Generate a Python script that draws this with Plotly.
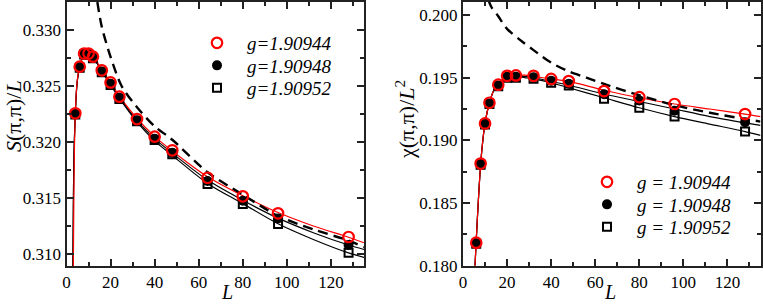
import plotly.graph_objects as go

# ---------------- data ----------------
G_NAMES_LEFT = ["g=1.90944", "g=1.90948", "g=1.90952"]
G_NAMES_RIGHT = ["g = 1.90944", "g = 1.90948", "g = 1.90952"]

# Left panel: S(pi,pi)/L
L_LEFT = [4, 6, 8, 10, 12, 16, 20, 24, 32, 40, 48, 64, 80, 96, 128]
S_G1 = [0.32256, 0.32673, 0.32790, 0.32790, 0.32762, 0.32640, 0.32532, 0.32405, 0.32205, 0.32048, 0.31926, 0.31681, 0.31515, 0.31363, 0.31152]
S_G2 = [0.32250, 0.32668, 0.32786, 0.32784, 0.32755, 0.32630, 0.32520, 0.32395, 0.32195, 0.32030, 0.31905, 0.31652, 0.31476, 0.31318, 0.31080]
S_G3 = [0.32245, 0.32663, 0.32782, 0.32778, 0.32748, 0.32622, 0.32510, 0.32385, 0.32185, 0.32018, 0.31890, 0.31625, 0.31446, 0.31268, 0.31012]

# fitted curves, left panel
FIT_L_LEFT = [3.1, 3.3, 3.6, 4, 4.5, 5, 6, 7, 8, 9, 10, 12, 14, 16, 20, 24, 32, 40, 48, 64, 80, 96, 112, 128, 135]
S_FIT_G1 = [0.3089, 0.3140, 0.3193, 0.3226, 0.3246, 0.3257, 0.3268, 0.3275, 0.3279, 0.3280, 0.3279, 0.3276, 0.3271, 0.3265, 0.3253, 0.3241, 0.3221, 0.3205, 0.3192, 0.3169, 0.3152, 0.3137, 0.3125, 0.3115, 0.3110]
FIT_L_LEFT_B = [2.9, 3.1, 3.4, 4, 4.5, 5, 6, 7, 8, 9, 10, 12, 14, 16, 20, 24, 32, 40, 48, 64, 80, 96, 112, 128, 135]
S_FIT_G2 = [0.3089, 0.3140, 0.3190, 0.3225, 0.3245, 0.3256, 0.3267, 0.3274, 0.3278, 0.3279, 0.3278, 0.3275, 0.3270, 0.3264, 0.3252, 0.3240, 0.3219, 0.3203, 0.3190, 0.3166, 0.3148, 0.3132, 0.3119, 0.3108, 0.3104]
S_FIT_G3 = [0.3089, 0.3140, 0.3190, 0.3225, 0.3245, 0.3256, 0.3267, 0.3274, 0.3278, 0.3279, 0.3278, 0.3275, 0.3270, 0.3263, 0.3251, 0.3239, 0.3218, 0.3201, 0.3188, 0.3163, 0.3145, 0.3127, 0.3113, 0.3101, 0.3097]
# dashed curve, left panel
DASH_L_LEFT = [14, 16, 20, 25, 32, 40, 48, 64, 80, 96, 112, 128, 135]
S_DASH = [0.3325, 0.3303, 0.3276, 0.3250, 0.3231, 0.3214, 0.3202, 0.3173, 0.3153, 0.3134, 0.3122, 0.3112, 0.3106]

# Right panel: chi(pi,pi)/L^2
L_RIGHT = [6, 8, 10, 12, 16, 20, 24, 32, 40, 48, 64, 80, 96, 128]
X_G1 = [0.18184, 0.18815, 0.19135, 0.19300, 0.19444, 0.19515, 0.19518, 0.19515, 0.19490, 0.19473, 0.19393, 0.19345, 0.19290, 0.19210]
X_G2 = [0.18180, 0.18810, 0.19130, 0.19295, 0.19438, 0.19508, 0.19508, 0.19503, 0.19476, 0.19452, 0.19368, 0.19319, 0.19236, 0.19145]
X_G3 = [0.18176, 0.18806, 0.19126, 0.19290, 0.19432, 0.19500, 0.19500, 0.19492, 0.19460, 0.19438, 0.19332, 0.19260, 0.19191, 0.19070]

FIT_L_RIGHT = [5.45, 6, 7, 8, 9, 10, 12, 14, 16, 18, 20, 24, 28, 32, 40, 48, 64, 80, 96, 112, 128, 135]
X_FIT_G1 = [0.1800, 0.1820, 0.1853, 0.1881, 0.1900, 0.1914, 0.1930, 0.1940, 0.1945, 0.1949, 0.1951, 0.1952, 0.1952, 0.1951, 0.1949, 0.1947, 0.1940, 0.1934, 0.1929, 0.1925, 0.1921, 0.1919]
X_FIT_G2 = [0.1800, 0.1820, 0.1853, 0.1881, 0.1900, 0.1914, 0.1930, 0.1940, 0.1945, 0.1948, 0.1950, 0.1951, 0.1951, 0.1950, 0.1947, 0.1944, 0.1937, 0.1931, 0.1925, 0.1919, 0.1914, 0.1912]
X_FIT_G3 = [0.1800, 0.1820, 0.1853, 0.1881, 0.1900, 0.1914, 0.1930, 0.1940, 0.1945, 0.1948, 0.1950, 0.1951, 0.1950, 0.1949, 0.1946, 0.1942, 0.1934, 0.1926, 0.1919, 0.1913, 0.1907, 0.1904]
DASH_L_RIGHT = [11.5, 13, 16, 20, 26, 32, 40, 48, 56, 64, 80, 96, 112, 128, 135]
X_DASH = [0.2012, 0.2006, 0.1999, 0.1989, 0.1980, 0.1972, 0.1962, 0.1955, 0.1950, 0.1945, 0.1936, 0.1928, 0.1922, 0.1917, 0.1915]

X_TICKS = [0, 20, 40, 60, 80, 100, 120]
X_TICK_TEXT = ["0", "20", "40", "60", "80", "100", "120"]
Y_TICKS_LEFT = [0.310, 0.315, 0.320, 0.325, 0.330]
Y_TICK_TEXT_LEFT = ["0.310", "0.315", "0.320", "0.325", "0.330"]
Y_TICKS_RIGHT = [0.180, 0.185, 0.190, 0.195, 0.200]
Y_TICK_TEXT_RIGHT = ["0.180", "0.185", "0.190", "0.195", "0.200"]

# ---------------- figure ----------------
FONT = "Liberation Serif, Times New Roman, serif"
RED = "#ff0000"
W, H = 763, 305

fig = go.Figure()


def add_panel(xa, ya, legends, names, Ls, ys, fitL1, fit1, fitLb, fit2, fit3, dashL, dash):
    for fy in (fit3, fit2):
        fig.add_trace(go.Scatter(x=fitLb, y=fy, mode="lines", xaxis=xa, yaxis=ya,
                                 line=dict(color="black", width=1.2, shape="spline", smoothing=0.8),
                                 showlegend=False, hoverinfo="skip"))
    fig.add_trace(go.Scatter(x=fitL1, y=fit1, mode="lines", xaxis=xa, yaxis=ya,
                             line=dict(color=RED, width=1.2, shape="spline", smoothing=0.8),
                             showlegend=False, hoverinfo="skip"))
    fig.add_trace(go.Scatter(x=dashL, y=dash, mode="lines", xaxis=xa, yaxis=ya,
                             line=dict(color="black", width=2.4, dash="10px,6px", shape="spline", smoothing=0.8),
                             showlegend=False, hoverinfo="skip"))
    fig.add_trace(go.Scatter(x=Ls, y=ys[2], mode="markers", xaxis=xa, yaxis=ya, name=names[2],
                             legend=legends[2],
                             marker=dict(symbol="square-open", size=8, color="black", line=dict(width=2))))
    fig.add_trace(go.Scatter(x=Ls, y=ys[1], mode="markers", xaxis=xa, yaxis=ya, name=names[1],
                             legend=legends[1],
                             marker=dict(symbol="circle", size=10, color="black")))
    fig.add_trace(go.Scatter(x=Ls, y=ys[0], mode="markers", xaxis=xa, yaxis=ya, name=names[0],
                             legend=legends[0],
                             marker=dict(symbol="circle-open", size=10.5, color=RED, line=dict(width=2.2))))


add_panel("x", "y", ["legend", "legend2", "legend3"], G_NAMES_LEFT, L_LEFT, [S_G1, S_G2, S_G3],
          FIT_L_LEFT, S_FIT_G1, FIT_L_LEFT_B, S_FIT_G2, S_FIT_G3, DASH_L_LEFT, S_DASH)
add_panel("x2", "y2", ["legend4", "legend5", "legend6"], G_NAMES_RIGHT, L_RIGHT, [X_G1, X_G2, X_G3],
          FIT_L_RIGHT, X_FIT_G1, FIT_L_RIGHT, X_FIT_G2, X_FIT_G3, DASH_L_RIGHT, X_DASH)

AX_COLOR = "#222222"


def axis(domain, rng, tickvals, ticktext, minor_dtick, anchor):
    return dict(domain=domain, range=rng, anchor=anchor,
                showline=True, linecolor=AX_COLOR, linewidth=2, mirror="allticks",
                ticks="inside", ticklen=7, tickwidth=1.5, tickcolor=AX_COLOR,
                tickvals=tickvals, ticktext=ticktext,
                minor=dict(ticks="inside", ticklen=4, tickwidth=1.5, tickcolor=AX_COLOR, dtick=minor_dtick),
                showgrid=False, zeroline=False, automargin=False,
                tickfont=dict(family=FONT, size=17, color="black"))


XD1 = [66.5 / W, 364 / W]
XD2 = [463 / W, 760.5 / W]
YD1 = [1 - 266 / H, 1 - 2 / H]
YD2 = [1 - 265.7 / H, 1 - 2 / H]

leg_font = dict(family=FONT, size=19, color="black", style="italic")


def leg(marker_x, row_y):
    return dict(x=(marker_x - 28) / W, y=1 - row_y / H, xanchor="left", yanchor="middle",
                bgcolor="rgba(0,0,0,0)", font=leg_font, itemwidth=50)


fig.update_layout(
    width=W, height=H, margin=dict(l=0, r=0, t=0, b=0),
    paper_bgcolor="white", plot_bgcolor="white",
    xaxis=axis(XD1, [0, 135], X_TICKS, X_TICK_TEXT, 10, "y"),
    yaxis=axis(YD1, [0.30893, 0.3325], Y_TICKS_LEFT, Y_TICK_TEXT_LEFT, 0.0025, "x"),
    xaxis2=axis(XD2, [0, 135], X_TICKS, X_TICK_TEXT, 10, "y2"),
    yaxis2=axis(YD2, [0.180, 0.20104], Y_TICKS_RIGHT, Y_TICK_TEXT_RIGHT, 0.0025, "x2"),
    legend=leg(215, 43), legend2=leg(215, 65.5), legend3=leg(215, 88),
    legend4=leg(605, 182), legend5=leg(605, 204.5), legend6=leg(605, 227),
    showlegend=True,
)

title_font = dict(family=FONT, size=20, color="black")
ytitle_font = dict(family=FONT, size=22, color="black")
fig.add_annotation(text="<i>L</i>", x=227 / W, y=1 - 292 / H, xref="paper", yref="paper",
                   showarrow=False, font=title_font, xanchor="center", yanchor="middle")
fig.add_annotation(text="<i>L</i>", x=610 / W, y=1 - 292 / H, xref="paper", yref="paper",
                   showarrow=False, font=title_font, xanchor="center", yanchor="middle")
fig.add_annotation(text="<i>S</i>(π,π)/<i>L</i>", x=14 / W, y=1 - 116 / H, xref="paper", yref="paper",
                   showarrow=False, font=ytitle_font, textangle=-90, xanchor="center", yanchor="middle")
fig.add_annotation(text="χ(π,π)/<i>L</i><sup>2</sup>", x=405 / W, y=1 - 120 / H, xref="paper", yref="paper",
                   showarrow=False, font=ytitle_font, textangle=-90, xanchor="center", yanchor="middle")

fig.write_html("out.html", config={"displayModeBar": False},
               post_script="document.body.style.margin='0';document.body.style.overflow='hidden';")
